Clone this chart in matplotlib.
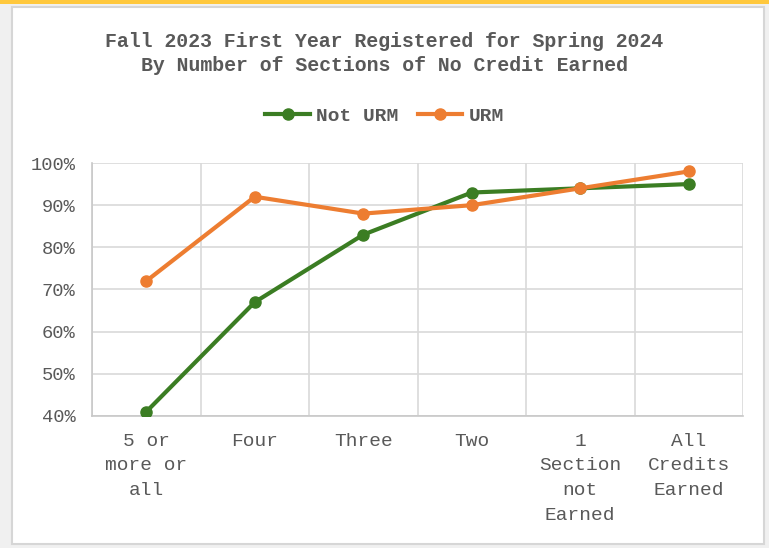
import matplotlib
matplotlib.use("Agg")
import matplotlib.pyplot as plt
from matplotlib.patches import Rectangle
from matplotlib.lines import Line2D

categories = ["5 or\nmore or\nall", "Four", "Three", "Two", "1\nSection\nnot\nEarned", "All\nCredits\nEarned"]
not_urm = [41, 67, 83, 93, 94, 95]
urm = [72, 92, 88, 90, 94, 98]
series_names = ["Not URM", "URM"]
yticks = [40, 50, 60, 70, 80, 90, 100]
title = "Fall 2023 First Year Registered for Spring 2024\nBy Number of Sections of No Credit Earned"

W, H = 769, 548
fig = plt.figure(figsize=(W / 100, H / 100), dpi=100)
fig.patch.set_facecolor("#F0F0F0")

def px(x0, y0, x1, y1):
    return (x0 / W, 1 - y1 / H, (x1 - x0) / W, (y1 - y0) / H)

# yellow top bar
l, b, w, h = px(0, 0, W, 4)
fig.patches.append(Rectangle((l, b), w, h, transform=fig.transFigure, facecolor="#FFC83D", edgecolor="none", zorder=0))
# white panel
l, b, w, h = px(12, 7, 764, 544)
fig.patches.append(Rectangle((l, b), w, h, transform=fig.transFigure, facecolor="white", edgecolor="#D6D6D6", linewidth=1.5, zorder=0))

font = "Liberation Mono"
txt_color = "#595959"
green = "#3B7D23"
orange = "#ED7D31"

ax = fig.add_axes(px(92, 163, 743, 416))
ax.set_zorder(5)
ax.set_facecolor("white")
x = list(range(len(categories)))
ax.plot(x, not_urm, color=green, lw=3, marker="o", ms=8, zorder=3, solid_capstyle="round")
ax.plot(x, urm, color=orange, lw=3, marker="o", ms=8, zorder=4, solid_capstyle="round")

ax.set_xlim(-0.5, len(categories) - 0.5)
ax.set_ylim(40, 100)
ax.set_yticks(yticks)
ax.set_yticklabels([f"{v}%" for v in yticks], fontfamily=font, fontsize=13.5, color=txt_color)
ax.set_xticks(x)
ax.set_xticklabels(categories, fontfamily=font, fontsize=14, color=txt_color, linespacing=1.6, va="top")
ax.set_xticks([i - 0.5 for i in range(len(categories) + 1)], minor=True)
ax.tick_params(axis="both", which="both", length=0)
ax.tick_params(axis="x", which="major", pad=12)
ax.tick_params(axis="y", pad=12)
ax.set_axisbelow(True)
ax.grid(True, which="minor", axis="x", color="#D9D9D9", lw=1.2)
ax.grid(True, which="major", axis="y", color="#D9D9D9", lw=1.2)
for s in ["top", "right"]:
    ax.spines[s].set_visible(False)
for s in ["left", "bottom"]:
    ax.spines[s].set_color("#C8C8C8")
    ax.spines[s].set_linewidth(1.2)

fig.text(0.5, 1 - 53.5 / H, title, ha="center", va="center", fontfamily=font, fontweight="bold",
         fontsize=14.3, color=txt_color, linespacing=1.35, zorder=6)

handles = [Line2D([], [], color=green, lw=3, marker="o", ms=8),
           Line2D([], [], color=orange, lw=3, marker="o", ms=8)]
leg = fig.legend(handles, series_names, loc="center", bbox_to_anchor=(0.5, 1 - 116 / H), ncol=2,
                 frameon=False, prop={"family": font, "weight": "bold", "size": 14},
                 handlelength=2.3, handletextpad=0.3, columnspacing=1.0, labelcolor=txt_color)
leg.set_zorder(6)

fig.savefig("out.png", dpi=100, facecolor=fig.get_facecolor())
